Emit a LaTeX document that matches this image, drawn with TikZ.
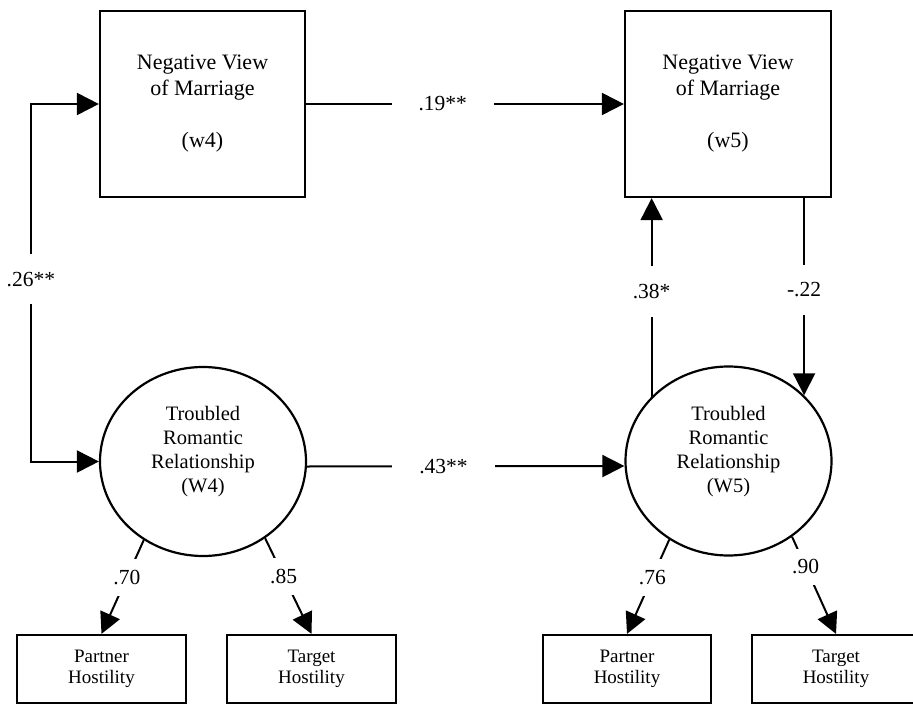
\documentclass[tikz,border=0pt]{standalone}
\usepackage{fontspec}
\setmainfont{Liberation Serif}
\usetikzlibrary{arrows.meta,shapes.geometric}

\begin{document}
\begin{tikzpicture}[x=1bp,y=-1bp,
    observed/.style={draw,line width=2.2bp,rectangle,minimum width=205bp,minimum height=186bp,
      align=center,font=\fontsize{22bp}{26bp}\selectfont},
    latent/.style={draw,line width=2.2bp,ellipse,minimum width=206bp,minimum height=189bp,inner sep=0pt},
    latenttext/.style={align=center,font=\fontsize{20.5bp}{24bp}\selectfont},
    indicator/.style={draw,line width=2.2bp,rectangle,minimum width=169bp,minimum height=68bp,
      align=center,font=\fontsize{19bp}{21.5bp}\selectfont},
    reg/.style={line width=2bp,-{Triangle[length=22bp,width=22bp]}},
    biarrow/.style={line width=2bp,{Triangle[length=22bp,width=22bp]}-{Triangle[length=22bp,width=22bp]}},
    load/.style={line width=2bp,-{Triangle[length=21bp,width=21bp]}},
    hcoef/.style={fill=white,inner xsep=27bp,inner ysep=2bp,font=\fontsize{21.5bp}{24bp}\selectfont},
    vcoef/.style={fill=white,inner xsep=2bp,inner ysep=18bp,font=\fontsize{21.5bp}{24bp}\selectfont},
    lcoef/.style={fill=white,inner xsep=2bp,inner ysep=11bp,font=\fontsize{21.5bp}{24bp}\selectfont}]
  \useasboundingbox (0,0) rectangle (913,705);

  % wave 4
  \node[observed] (vw4) at (202.5,104) {Negative View\\of Marriage\\[26bp](w4)};
  \node[latent] (trr4) at (203,461.5) {};
  \node[latenttext] (trr4lab) at (203,452) {Troubled\\Romantic\\Relationship\\(W4)};
  \node[indicator] (ph4) at (101.5,669) {Partner\\Hostility};
  \node[indicator] (th4) at (311.5,669) {Target\\Hostility};

  % wave 5
  \node[observed,minimum width=206bp] (vw5) at (728,104) {Negative View\\of Marriage\\[26bp](w5)};
  \node[latent] (trr5) at (728.5,461) {};
  \node[latenttext] (trr5lab) at (728.5,452) {Troubled\\Romantic\\Relationship\\(W5)};
  \node[indicator,minimum width=168bp] (ph5) at (627,669) {Partner\\Hostility};
  \node[indicator,minimum width=168bp] (th5) at (836,669) {Target\\Hostility};

  % paths
  \draw[biarrow] (vw4.west) -- ++(-68,0) |- node[pos=0.245,vcoef]{.26**} (trr4.west);
  \draw[reg] (vw4.east) -- node[pos=0.43,hcoef]{.19**} (vw5.west);
  \draw[reg] ([yshift=-5bp]trr4.east) -- node[pos=0.43,hcoef]{.43**} ([yshift=-5bp]trr5.west);
  \draw[reg] (trr5.140) -- node[pos=0.53,vcoef]{.38*} (trr5.140 |- vw5.south);
  \draw[reg] (trr5.41 |- vw5.south) -- node[pos=0.465,vcoef]{-.22} (trr5.41);

  % loadings
  \draw[load] (trr4.233) -- node[pos=0.4,lcoef]{.70} (ph4.north);
  \draw[load] (trr4.309) -- node[pos=0.4,lcoef]{.85} (th4.north);
  \draw[load] (trr5.233) -- node[pos=0.4,lcoef]{.76} (ph5.north);
  \draw[load] (trr5.310) -- node[pos=0.31,lcoef]{.90} (th5.north);
\end{tikzpicture}
\end{document}
